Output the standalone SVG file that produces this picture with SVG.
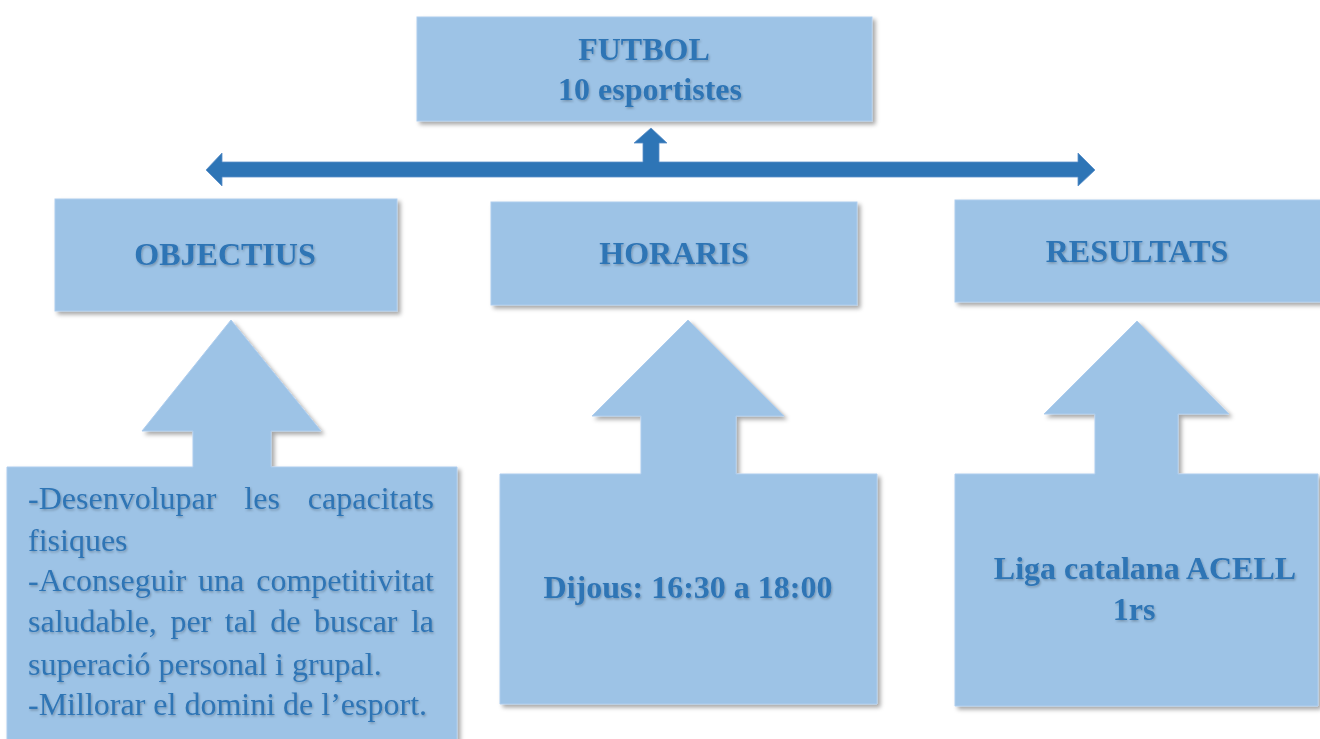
<svg xmlns="http://www.w3.org/2000/svg" width="1320" height="739" viewBox="0 0 1320 739">
<defs>
<filter id="sh" x="-10%" y="-10%" width="125%" height="125%">
<feDropShadow dx="3" dy="3" stdDeviation="2.2" flood-color="#000" flood-opacity="0.35"/>
</filter>
<filter id="tsh" x="-5%" y="-20%" width="110%" height="150%">
<feDropShadow dx="1" dy="1.5" stdDeviation="0.8" flood-color="#000" flood-opacity="0.25"/>
</filter>
</defs>
<style>
.box{fill:#9DC3E6;stroke:#AECDEE;stroke-width:1;filter:url(#sh)}
.conn{fill:#2E75B6;stroke:#5B8FC9;stroke-width:0.8}
.t{font-family:"Liberation Serif","Times New Roman",serif;font-size:32px;fill:#2E74B5;filter:url(#tsh)}
.b{font-weight:bold;text-anchor:middle}
.e{text-anchor:end}
</style>
<rect width="1320" height="739" fill="#FFFFFF"/>
<g id="connectors">
<path class="conn" d="M206,170 L222,153 L222,162 L643,162 L643,143 L634,143 L651,128 L667,143 L659,143 L659,162 L1078,162 L1078,153 L1095,170 L1078,186 L1078,177 L222,177 L222,186 Z"/>
</g>
<g id="futbol">
<rect class="box" x="417" y="17" width="455" height="104"/>
<text class="t b" x="644" y="60">FUTBOL</text>
<text class="t b" x="650" y="100">10 esportistes</text>
</g>
<g id="objectius">
<rect class="box" x="55" y="199" width="342" height="112"/>
<text class="t b" x="225" y="265">OBJECTIUS</text>
</g>
<g id="horaris">
<rect class="box" x="491" y="202" width="366" height="103"/>
<text class="t b" x="674" y="264">HORARIS</text>
</g>
<g id="resultats">
<rect class="box" x="955" y="200" width="370" height="102"/>
<text class="t b" x="1137" y="262">RESULTATS</text>
</g>
<g id="objectius-detail">
<path class="box" d="M7,467 L193,467 L193,431 L142,431 L231,320 L321,431 L271,431 L271,467 L457,467 L457,760 L7,760 Z"/>
<text class="t" x="28" y="509">-Desenvolupar</text>
<text class="t" x="244.3" y="509">les</text>
<text class="t e" x="434" y="509">capacitats</text>
<text class="t" x="28" y="551">fisiques</text>
<text class="t" x="28" y="591">-Aconseguir</text>
<text class="t" x="198.1" y="591">una</text>
<text class="t e" x="434" y="591">competitivitat</text>
<text class="t" x="28" y="632">saludable,</text>
<text class="t" x="170.4" y="632">per</text>
<text class="t" x="224.8" y="632">tal</text>
<text class="t" x="270.3" y="632">de</text>
<text class="t" x="314" y="632">buscar</text>
<text class="t e" x="434" y="632">la</text>
<text class="t" x="28" y="675">superació personal i grupal.</text>
<text class="t" x="28" y="715">-Millorar el domini de l’esport.</text>
</g>
<g id="horaris-detail">
<path class="box" d="M500,474 L641,474 L641,416 L592,416 L688,320 L784,416 L736,416 L736,474 L877,474 L877,704 L500,704 Z"/>
<text class="t b" x="688" y="598">Dijous: 16:30 a 18:00</text>
</g>
<g id="resultats-detail">
<path class="box" d="M955,474 L1095,474 L1095,414 L1044,414 L1137,321 L1229,414 L1178,414 L1178,474 L1318,474 L1318,706 L955,706 Z"/>
<text class="t b" x="1145" y="579">Liga catalana ACELL</text>
<text class="t b" x="1134" y="620">1rs</text>
</g>
</svg>
